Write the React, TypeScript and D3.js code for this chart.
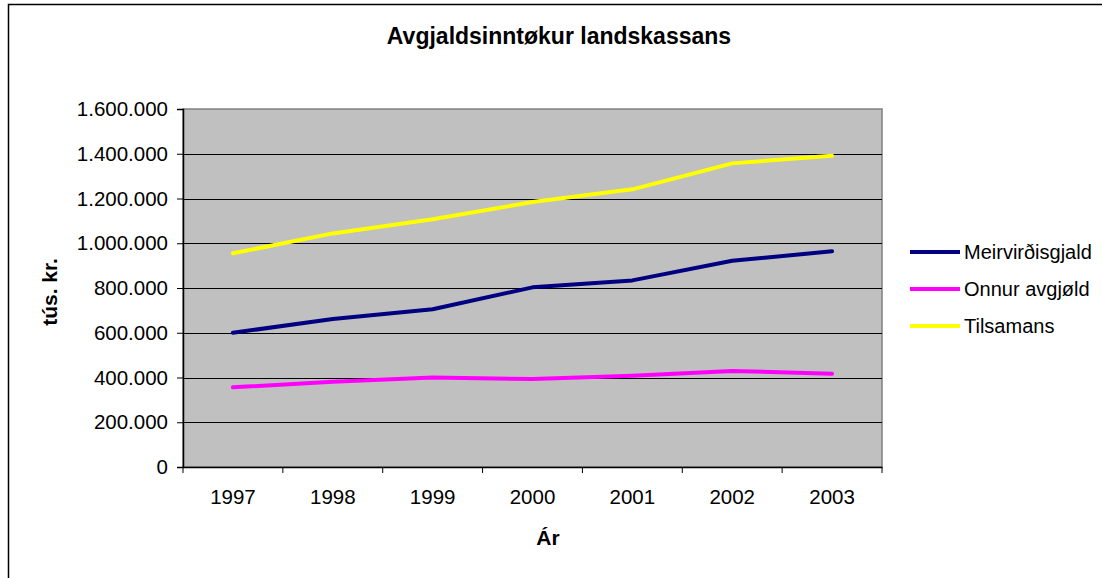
import { useEffect, useRef } from "react";
import * as d3 from "d3";

const YEARS = ["1997", "1998", "1999", "2000", "2001", "2002", "2003"];
const MEIRVIRDISGJALD = [600000, 661000, 705000, 803000, 834000, 922000, 964000];
const ONNUR_AVGJOLD = [356000, 381000, 400000, 393000, 408000, 429000, 417000];
const TILSAMANS = [955000, 1044000, 1107000, 1184000, 1241000, 1357000, 1391000];
const Y_TICKS = [0, 200000, 400000, 600000, 800000, 1000000, 1200000, 1400000, 1600000];

const SERIES = [
  { name: "Meirvirðisgjald", values: MEIRVIRDISGJALD, color: "#000080" },
  { name: "Onnur avgjøld", values: ONNUR_AVGJOLD, color: "#FF00FF" },
  { name: "Tilsamans", values: TILSAMANS, color: "#FFFF00" },
];

const FONT = "'Liberation Sans', Arial, sans-serif";

export default function App() {
  const svgRef = useRef<SVGSVGElement>(null);

  useEffect(() => {
    if (!svgRef.current) return;
    const width = 1102;
    const height = 578;
    const plot = { left: 183, top: 109, right: 882, bottom: 467 };

    const svg = d3.select(svgRef.current);
    svg.selectAll("*").remove();
    svg.attr("width", width).attr("height", height);

    svg.append("rect").attr("width", width).attr("height", height).attr("fill", "#fff");

    // outer chart frame (runs off the right and bottom edges)
    svg.append("rect")
      .attr("x", 8.5).attr("y", 4.5)
      .attr("width", width + 20).attr("height", height + 20)
      .attr("fill", "none").attr("stroke", "#000").attr("stroke-width", 1.5);

    const x = d3.scaleBand().domain(YEARS).range([plot.left, plot.right]);
    const y = d3.scaleLinear().domain([0, 1600000]).range([plot.bottom, plot.top]);

    // plot area
    svg.append("rect")
      .attr("x", plot.left).attr("y", plot.top)
      .attr("width", plot.right - plot.left).attr("height", plot.bottom - plot.top)
      .attr("fill", "#C0C0C0").attr("stroke", "#808080").attr("stroke-width", 1.5);

    // gridlines
    svg.append("g")
      .selectAll("line")
      .data(Y_TICKS.filter((t) => t > 0 && t < 1600000))
      .join("line")
      .attr("x1", plot.left).attr("x2", plot.right)
      .attr("y1", (d) => Math.round(y(d)) + 0.5).attr("y2", (d) => Math.round(y(d)) + 0.5)
      .attr("stroke", "#000").attr("stroke-width", 1);

    // y axis
    const yAxis = svg.append("g")
      .attr("transform", `translate(${plot.left},0)`)
      .call(d3.axisLeft(y).tickValues(Y_TICKS).tickSize(6).tickPadding(9)
        .tickFormat((d) => d3.format(",")(d as number).replace(/,/g, ".")));
    yAxis.select(".domain").attr("stroke", "#000").attr("stroke-width", 1.5);
    yAxis.selectAll(".tick line").attr("stroke", "#000");
    yAxis.selectAll("text").attr("font-family", FONT).attr("font-size", 20.5).attr("fill", "#000");

    // x axis
    const xAxis = svg.append("g")
      .attr("transform", `translate(0,${plot.bottom})`)
      .call(d3.axisBottom(x).tickSize(0).tickPadding(22));
    xAxis.select(".domain").attr("stroke", "#000").attr("stroke-width", 1.5);
    xAxis.selectAll("text").attr("font-family", FONT).attr("font-size", 20.5).attr("fill", "#000");

    // category separators below the axis
    svg.append("g")
      .selectAll("line")
      .data(YEARS.map((d) => x(d) as number).concat([plot.right]))
      .join("line")
      .attr("x1", (d) => d).attr("x2", (d) => d)
      .attr("y1", plot.bottom).attr("y2", plot.bottom + 6)
      .attr("stroke", "#000").attr("stroke-width", 1);

    // series lines
    const line = d3.line<number>()
      .x((_, i) => (x(YEARS[i]) as number) + x.bandwidth() / 2)
      .y((d) => y(d));

    SERIES.forEach((s) => {
      svg.append("path")
        .attr("d", line(s.values))
        .attr("fill", "none")
        .attr("stroke", s.color)
        .attr("stroke-width", 4)
        .attr("stroke-linejoin", "round")
        .attr("stroke-linecap", "round");
    });

    // title
    svg.append("text")
      .attr("x", 559).attr("y", 44)
      .attr("text-anchor", "middle")
      .attr("font-family", FONT).attr("font-size", 23).attr("font-weight", "bold")
      .text("Avgjaldsinntøkur landskassans");

    // axis titles
    svg.append("text")
      .attr("x", 548).attr("y", 545)
      .attr("text-anchor", "middle")
      .attr("font-family", FONT).attr("font-size", 21).attr("font-weight", "bold")
      .text("Ár");

    svg.append("text")
      .attr("transform", "translate(57,292) rotate(-90)")
      .attr("text-anchor", "middle")
      .attr("font-family", FONT).attr("font-size", 21).attr("font-weight", "bold")
      .text("tús. kr.");

    // legend
    const legend = svg.append("g").attr("transform", "translate(910,252)");
    SERIES.forEach((s, i) => {
      const g = legend.append("g").attr("transform", `translate(0,${i * 37})`);
      g.append("line")
        .attr("x1", 0).attr("x2", 50).attr("y1", 0).attr("y2", 0)
        .attr("stroke", s.color).attr("stroke-width", 4);
      g.append("text")
        .attr("x", 54).attr("y", 7)
        .attr("font-family", FONT).attr("font-size", 20)
        .text(s.name);
    });
  }, []);

  return <svg ref={svgRef} style={{ position: "absolute", left: 0, top: 0 }} />;
}
